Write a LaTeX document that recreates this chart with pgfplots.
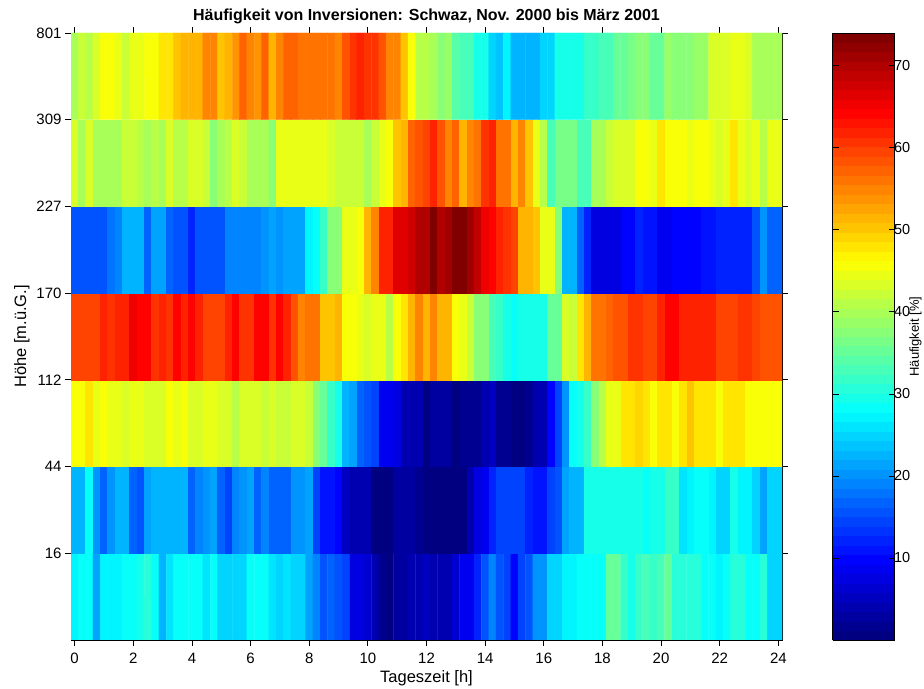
\documentclass[border=0pt]{standalone}
\usepackage{fontspec}
\setmainfont{Liberation Sans}
\usepackage{pgfplots}
\pgfplotsset{compat=1.18}

% jet colour scale, sampled into 64 discrete steps
\pgfplotsset{
  colormap={jetbase}{rgb255(0)=(0,0,128) rgb255(1)=(0,0,255) rgb255(3)=(0,255,255)
                     rgb255(5)=(255,255,0) rgb255(7)=(255,0,0) rgb255(8)=(128,0,0)},
  colormap={jetsteps}{samples of colormap=(64 of jetbase)},
}

\newcommand{\ticklabelfont}{\fontsize{15bp}{17bp}\selectfont}
\newcommand{\labelfont}{\fontsize{16.5bp}{19bp}\selectfont}

\begin{document}
\begin{tikzpicture}
\path[use as bounding box] (0,0) rectangle (924bp,689bp);
\begin{axis}[
  at={(71bp,49bp)}, anchor=south west,
  scale only axis, width=711bp, height=607bp,
  xmin=-0.125, xmax=24.125, ymin=0, ymax=7,
  xtick={0,2,...,24},
  ytick={1,...,7}, yticklabels={16,44,112,170,227,309,801},
  tick align=outside, major tick length=6bp,
  axis line style={line width=0.8bp},
  every tick/.style={black, line width=0.8bp},
  /pgf/number format/assume math mode=true,
  tick label style={font=\ticklabelfont},
  xticklabel style={yshift=-4bp},
  label style={font=\labelfont},
  title={Häufigkeit von Inversionen: Schwaz, Nov. 2000 bis März 2001},
  title style={font=\fontsize{16bp}{18bp}\selectfont\bfseries,
               at={(0.5,1)}, anchor=base, yshift=7bp},
  xlabel={Tageszeit [h]},
  ylabel={Höhe [m.ü.G.]},
  colormap name=jetsteps,
  colormap access=piecewise constant,
  point meta min=0, point meta max=74,
  colorbar,
  colorbar style={
    at={(parent axis.south east)}, anchor=south west, xshift=42bp,
    scale only axis, width=62bp, height=607bp,
    ytick={10,20,...,70},
    ytick pos=both, yticklabel pos=right,
    tick align=inside, major tick length=6bp,
    axis line style={line width=0.8bp},
    every tick/.style={black, line width=0.8bp},
    /pgf/number format/assume math mode=true,
    yticklabel style={font=\fontsize{14.5bp}{16bp}\selectfont, xshift=-4bp},
    ylabel={Häufigkeit [\%]},
    ylabel style={font=\fontsize{13bp}{15bp}\selectfont, inner sep=0pt,
                  at={(rel axis cs:1,0.5)}, anchor=center, yshift=-21bp},
  },
]
\addplot[matrix plot*, mesh/cols=97, point meta=explicit]
  table[row sep=\\, x=t, y=z, meta=f] {
t z f\\
0 0.5 27\\ 0.25 0.5 28.5\\ 0.5 0.5 28.5\\ 0.75 0.5 21\\ 1 0.5 27\\ 1.25 0.5 27\\ 1.5 0.5 27\\ 1.75 0.5 28.5\\
2 0.5 28.5\\ 2.25 0.5 30\\ 2.5 0.5 31\\ 2.75 0.5 28\\ 3 0.5 22\\ 3.25 0.5 26\\ 3.5 0.5 28.5\\ 3.75 0.5 28.5\\
4 0.5 28\\ 4.25 0.5 28.5\\ 4.5 0.5 26\\ 4.75 0.5 28.5\\ 5 0.5 25\\ 5.25 0.5 25\\ 5.5 0.5 25\\ 5.75 0.5 25\\
6 0.5 28\\ 6.25 0.5 28\\ 6.5 0.5 28\\ 6.75 0.5 26\\ 7 0.5 25\\ 7.25 0.5 26.5\\ 7.5 0.5 25\\ 7.75 0.5 25\\
8 0.5 21\\ 8.25 0.5 18.5\\ 8.5 0.5 16\\ 8.75 0.5 17\\ 9 0.5 16\\ 9.25 0.5 14\\ 9.5 0.5 8\\ 9.75 0.5 7\\
10 0.5 6\\ 10.25 0.5 4.5\\ 10.5 0.5 1.5\\ 10.75 0.5 0\\ 11 0.5 2.5\\ 11.25 0.5 2.5\\ 11.5 0.5 3.5\\ 11.75 0.5 3.5\\
12 0.5 5\\ 12.25 0.5 4\\ 12.5 0.5 4\\ 12.75 0.5 4.5\\ 13 0.5 6\\ 13.25 0.5 9\\ 13.5 0.5 9\\ 13.75 0.5 12.5\\
14 0.5 16\\ 14.25 0.5 18.5\\ 14.5 0.5 16\\ 14.75 0.5 14\\ 15 0.5 10\\ 15.25 0.5 14\\ 15.5 0.5 16\\ 15.75 0.5 20\\
16 0.5 20\\ 16.25 0.5 25\\ 16.5 0.5 25\\ 16.75 0.5 27\\ 17 0.5 27\\ 17.25 0.5 28.5\\ 17.5 0.5 28.5\\ 17.75 0.5 28.5\\
18 0.5 28.5\\ 18.25 0.5 35.5\\ 18.5 0.5 35.5\\ 18.75 0.5 32\\ 19 0.5 30\\ 19.25 0.5 32\\ 19.5 0.5 33\\ 19.75 0.5 32\\
20 0.5 33\\ 20.25 0.5 35.5\\ 20.5 0.5 31\\ 20.75 0.5 31\\ 21 0.5 31\\ 21.25 0.5 31\\ 21.5 0.5 28.5\\ 21.75 0.5 28.5\\
22 0.5 27\\ 22.25 0.5 28.5\\ 22.5 0.5 31\\ 22.75 0.5 31\\ 23 0.5 28.5\\ 23.25 0.5 28.5\\ 23.5 0.5 31\\ 23.75 0.5 25\\
24 0.5 25\\
0 1.5 23\\ 0.25 1.5 22\\ 0.5 1.5 28\\ 0.75 1.5 20\\ 1 1.5 17\\ 1.25 1.5 20\\ 1.5 1.5 23\\ 1.75 1.5 22\\
2 1.5 17\\ 2.25 1.5 16\\ 2.5 1.5 21\\ 2.75 1.5 22\\ 3 1.5 22\\ 3.25 1.5 22\\ 3.5 1.5 22\\ 3.75 1.5 22\\
4 1.5 17\\ 4.25 1.5 18.5\\ 4.5 1.5 20\\ 4.75 1.5 21\\ 5 1.5 17\\ 5.25 1.5 15\\ 5.5 1.5 18.5\\ 5.75 1.5 20\\
6 1.5 21\\ 6.25 1.5 17\\ 6.5 1.5 18.5\\ 6.75 1.5 17\\ 7 1.5 17\\ 7.25 1.5 17\\ 7.5 1.5 20\\ 7.75 1.5 20\\
8 1.5 21\\ 8.25 1.5 15\\ 8.5 1.5 11\\ 8.75 1.5 11\\ 9 1.5 10\\ 9.25 1.5 5.5\\ 9.5 1.5 4.5\\ 9.75 1.5 3.5\\
10 1.5 4.5\\ 10.25 1.5 0.3\\ 10.5 1.5 0.3\\ 10.75 1.5 0.3\\ 11 1.5 2.5\\ 11.25 1.5 2.5\\ 11.5 1.5 2.5\\ 11.75 1.5 1.5\\
12 1.5 0.3\\ 12.25 1.5 0.3\\ 12.5 1.5 0.3\\ 12.75 1.5 0.2\\ 13 1.5 0\\ 13.25 1.5 0\\ 13.5 1.5 3.5\\ 13.75 1.5 7\\
14 1.5 9\\ 14.25 1.5 12.5\\ 14.5 1.5 14\\ 14.75 1.5 14\\ 15 1.5 14\\ 15.25 1.5 14\\ 15.5 1.5 12.5\\ 15.75 1.5 11\\
16 1.5 11\\ 16.25 1.5 14\\ 16.5 1.5 16\\ 16.75 1.5 21\\ 17 1.5 23\\ 17.25 1.5 23\\ 17.5 1.5 30\\ 17.75 1.5 30\\
18 1.5 29\\ 18.25 1.5 30\\ 18.5 1.5 30\\ 18.75 1.5 30\\ 19 1.5 30\\ 19.25 1.5 29\\ 19.5 1.5 28\\ 19.75 1.5 29\\
20 1.5 30\\ 20.25 1.5 32\\ 20.5 1.5 32\\ 20.75 1.5 26\\ 21 1.5 27\\ 21.25 1.5 28\\ 21.5 1.5 28\\ 21.75 1.5 27\\
22 1.5 25\\ 22.25 1.5 25\\ 22.5 1.5 29\\ 22.75 1.5 27\\ 23 1.5 27\\ 23.25 1.5 25\\ 23.5 1.5 21\\ 23.75 1.5 25\\
24 1.5 25\\
0 2.5 46\\ 0.25 2.5 46\\ 0.5 2.5 48\\ 0.75 2.5 45\\ 1 2.5 46\\ 1.25 2.5 44\\ 1.5 2.5 44\\ 1.75 2.5 43\\
2 2.5 45\\ 2.25 2.5 45\\ 2.5 2.5 43\\ 2.75 2.5 43\\ 3 2.5 43\\ 3.25 2.5 46\\ 3.5 2.5 45\\ 3.75 2.5 46\\
4 2.5 43\\ 4.25 2.5 43\\ 4.5 2.5 45\\ 4.75 2.5 45\\ 5 2.5 43\\ 5.25 2.5 43\\ 5.5 2.5 41\\ 5.75 2.5 43\\
6 2.5 43\\ 6.25 2.5 43\\ 6.5 2.5 42\\ 6.75 2.5 43\\ 7 2.5 42\\ 7.25 2.5 42\\ 7.5 2.5 43\\ 7.75 2.5 43\\
8 2.5 42\\ 8.25 2.5 38\\ 8.5 2.5 35\\ 8.75 2.5 32\\ 9 2.5 30\\ 9.25 2.5 23\\ 9.5 2.5 21\\ 9.75 2.5 17\\
10 2.5 16\\ 10.25 2.5 14\\ 10.5 2.5 9\\ 10.75 2.5 9\\ 11 2.5 7\\ 11.25 2.5 3.5\\ 11.5 2.5 3.5\\ 11.75 2.5 3.5\\
12 2.5 1\\ 12.25 2.5 2.5\\ 12.5 2.5 2.5\\ 12.75 2.5 2.5\\ 13 2.5 0.5\\ 13.25 2.5 1.5\\ 13.5 2.5 1.5\\ 13.75 2.5 1.5\\
14 2.5 4\\ 14.25 2.5 5\\ 14.5 2.5 1.5\\ 14.75 2.5 1.5\\ 15 2.5 0.5\\ 15.25 2.5 0.5\\ 15.5 2.5 1.5\\ 15.75 2.5 3.5\\
16 2.5 3.5\\ 16.25 2.5 10\\ 16.5 2.5 14\\ 16.75 2.5 20\\ 17 2.5 28\\ 17.25 2.5 30\\ 17.5 2.5 32\\ 17.75 2.5 37\\
18 2.5 41\\ 18.25 2.5 44\\ 18.5 2.5 44\\ 18.75 2.5 48\\ 19 2.5 48\\ 19.25 2.5 49\\ 19.5 2.5 48\\ 19.75 2.5 46\\
20 2.5 48.5\\ 20.25 2.5 48.5\\ 20.5 2.5 46\\ 20.75 2.5 48\\ 21 2.5 50\\ 21.25 2.5 47.5\\ 21.5 2.5 47.5\\ 21.75 2.5 47.5\\
22 2.5 46\\ 22.25 2.5 47.5\\ 22.5 2.5 47.5\\ 22.75 2.5 47.5\\ 23 2.5 46\\ 23.25 2.5 46\\ 23.5 2.5 46\\ 23.75 2.5 46\\
24 2.5 46\\
0 3.5 60\\ 0.25 3.5 60\\ 0.5 3.5 60\\ 0.75 3.5 60\\ 1 3.5 62\\ 1.25 3.5 61\\ 1.5 3.5 62\\ 1.75 3.5 62\\
2 3.5 65\\ 2.25 3.5 64\\ 2.5 3.5 64\\ 2.75 3.5 61\\ 3 3.5 62\\ 3.25 3.5 61\\ 3.5 3.5 64\\ 3.75 3.5 62\\
4 3.5 64\\ 4.25 3.5 62\\ 4.5 3.5 60\\ 4.75 3.5 60\\ 5 3.5 60\\ 5.25 3.5 62\\ 5.5 3.5 64\\ 5.75 3.5 61\\
6 3.5 61\\ 6.25 3.5 64\\ 6.5 3.5 64\\ 6.75 3.5 61\\ 7 3.5 64\\ 7.25 3.5 62\\ 7.5 3.5 58\\ 7.75 3.5 55\\
8 3.5 56\\ 8.25 3.5 56\\ 8.5 3.5 50\\ 8.75 3.5 50\\ 9 3.5 52\\ 9.25 3.5 46\\ 9.5 3.5 46\\ 9.75 3.5 44\\
10 3.5 43\\ 10.25 3.5 44\\ 10.5 3.5 44\\ 10.75 3.5 41\\ 11 3.5 46\\ 11.25 3.5 48\\ 11.5 3.5 52\\ 11.75 3.5 55\\
12 3.5 52\\ 12.25 3.5 55\\ 12.5 3.5 51\\ 12.75 3.5 51\\ 13 3.5 46\\ 13.25 3.5 44\\ 13.5 3.5 42\\ 13.75 3.5 38\\
14 3.5 37\\ 14.25 3.5 33\\ 14.5 3.5 32\\ 14.75 3.5 30\\ 15 3.5 28\\ 15.25 3.5 30\\ 15.5 3.5 29\\ 15.75 3.5 30\\
16 3.5 30\\ 16.25 3.5 35\\ 16.5 3.5 35\\ 16.75 3.5 43\\ 17 3.5 42\\ 17.25 3.5 48\\ 17.5 3.5 52\\ 17.75 3.5 56\\
18 3.5 56\\ 18.25 3.5 57\\ 18.5 3.5 58\\ 18.75 3.5 58\\ 19 3.5 61\\ 19.25 3.5 61\\ 19.5 3.5 60\\ 19.75 3.5 60\\
20 3.5 62\\ 20.25 3.5 64\\ 20.5 3.5 64\\ 20.75 3.5 62\\ 21 3.5 62\\ 21.25 3.5 62\\ 21.5 3.5 62\\ 21.75 3.5 62\\
22 3.5 60\\ 22.25 3.5 60\\ 22.5 3.5 60\\ 22.75 3.5 61\\ 23 3.5 61\\ 23.25 3.5 60\\ 23.5 3.5 58\\ 23.75 3.5 58\\
24 3.5 58\\
0 4.5 16\\ 0.25 4.5 16\\ 0.5 4.5 16\\ 0.75 4.5 16\\ 1 4.5 16\\ 1.25 4.5 18\\ 1.5 4.5 18.5\\ 1.75 4.5 23\\
2 4.5 22\\ 2.25 4.5 23\\ 2.5 4.5 17\\ 2.75 4.5 21\\ 3 4.5 21\\ 3.25 4.5 17\\ 3.5 4.5 16\\ 3.75 4.5 16\\
4 4.5 12.5\\ 4.25 4.5 16\\ 4.5 4.5 16\\ 4.75 4.5 16\\ 5 4.5 16\\ 5.25 4.5 18.5\\ 5.5 4.5 18.5\\ 5.75 4.5 18.5\\
6 4.5 19\\ 6.25 4.5 19\\ 6.5 4.5 20\\ 6.75 4.5 21\\ 7 4.5 20\\ 7.25 4.5 21.5\\ 7.5 4.5 21.5\\ 7.75 4.5 21.5\\
8 4.5 27\\ 8.25 4.5 28\\ 8.5 4.5 32\\ 8.75 4.5 37\\ 9 4.5 37\\ 9.25 4.5 44\\ 9.5 4.5 44\\ 9.75 4.5 46\\
10 4.5 52\\ 10.25 4.5 55\\ 10.5 4.5 62\\ 10.75 4.5 62\\ 11 4.5 67\\ 11.25 4.5 67\\ 11.5 4.5 68\\ 11.75 4.5 70\\
12 4.5 70\\ 12.25 4.5 73\\ 12.5 4.5 70\\ 12.75 4.5 71\\ 13 4.5 73\\ 13.25 4.5 74\\ 13.5 4.5 71\\ 13.75 4.5 69\\
14 4.5 65\\ 14.25 4.5 64\\ 14.5 4.5 62\\ 14.75 4.5 61\\ 15 4.5 60\\ 15.25 4.5 52\\ 15.5 4.5 52\\ 15.75 4.5 50\\
16 4.5 45\\ 16.25 4.5 45\\ 16.5 4.5 37\\ 16.75 4.5 23\\ 17 4.5 22\\ 17.25 4.5 17\\ 17.5 4.5 12.5\\ 17.75 4.5 8\\
18 4.5 8\\ 18.25 4.5 8\\ 18.5 4.5 8\\ 18.75 4.5 10\\ 19 4.5 10\\ 19.25 4.5 12.5\\ 19.5 4.5 11\\ 19.75 4.5 11\\
20 4.5 9\\ 20.25 4.5 9\\ 20.5 4.5 10\\ 20.75 4.5 10\\ 21 4.5 10\\ 21.25 4.5 10\\ 21.5 4.5 11\\ 21.75 4.5 11\\
22 4.5 12.5\\ 22.25 4.5 12.5\\ 22.5 4.5 12.5\\ 22.75 4.5 12.5\\ 23 4.5 12.5\\ 23.25 4.5 16\\ 23.5 4.5 20\\ 23.75 4.5 17\\
24 4.5 17\\
0 5.5 43\\ 0.25 5.5 40\\ 0.5 5.5 43\\ 0.75 5.5 40\\ 1 5.5 40\\ 1.25 5.5 40\\ 1.5 5.5 40\\ 1.75 5.5 42\\
2 5.5 42\\ 2.25 5.5 41\\ 2.5 5.5 40\\ 2.75 5.5 41\\ 3 5.5 40\\ 3.25 5.5 43\\ 3.5 5.5 41\\ 3.75 5.5 41\\
4 5.5 43\\ 4.25 5.5 43\\ 4.5 5.5 42\\ 4.75 5.5 37\\ 5 5.5 40\\ 5.25 5.5 41\\ 5.5 5.5 43\\ 5.75 5.5 42\\
6 5.5 40\\ 6.25 5.5 40\\ 6.5 5.5 40\\ 6.75 5.5 37\\ 7 5.5 44\\ 7.25 5.5 44\\ 7.5 5.5 44\\ 7.75 5.5 44\\
8 5.5 44\\ 8.25 5.5 44\\ 8.5 5.5 45\\ 8.75 5.5 43\\ 9 5.5 42\\ 9.25 5.5 42\\ 9.5 5.5 42\\ 9.75 5.5 42\\
10 5.5 40\\ 10.25 5.5 42\\ 10.5 5.5 44\\ 10.75 5.5 46\\ 11 5.5 50\\ 11.25 5.5 51\\ 11.5 5.5 57\\ 11.75 5.5 58\\
12 5.5 60\\ 12.25 5.5 62\\ 12.5 5.5 58\\ 12.75 5.5 55\\ 13 5.5 57\\ 13.25 5.5 52\\ 13.5 5.5 55\\ 13.75 5.5 56\\
14 5.5 61\\ 14.25 5.5 62\\ 14.5 5.5 56\\ 14.75 5.5 56\\ 15 5.5 52\\ 15.25 5.5 55\\ 15.5 5.5 50\\ 15.75 5.5 44\\
16 5.5 41\\ 16.25 5.5 33\\ 16.5 5.5 36\\ 16.75 5.5 36\\ 17 5.5 36\\ 17.25 5.5 33\\ 17.5 5.5 33\\ 17.75 5.5 40\\
18 5.5 40\\ 18.25 5.5 42\\ 18.5 5.5 43\\ 18.75 5.5 43\\ 19 5.5 43\\ 19.25 5.5 46\\ 19.5 5.5 46\\ 19.75 5.5 45\\
20 5.5 48\\ 20.25 5.5 46\\ 20.5 5.5 46\\ 20.75 5.5 46\\ 21 5.5 45\\ 21.25 5.5 46\\ 21.5 5.5 46\\ 21.75 5.5 45\\
22 5.5 43\\ 22.25 5.5 44\\ 22.5 5.5 48\\ 22.75 5.5 44\\ 23 5.5 43\\ 23.25 5.5 45\\ 23.5 5.5 41\\ 23.75 5.5 44\\
24 5.5 44\\
0 6.5 40\\ 0.25 6.5 42\\ 0.5 6.5 41\\ 0.75 6.5 43\\ 1 6.5 46\\ 1.25 6.5 46\\ 1.5 6.5 44\\ 1.75 6.5 42\\
2 6.5 45\\ 2.25 6.5 45\\ 2.5 6.5 46\\ 2.75 6.5 46\\ 3 6.5 48\\ 3.25 6.5 48\\ 3.5 6.5 50\\ 3.75 6.5 51\\
4 6.5 51\\ 4.25 6.5 52\\ 4.5 6.5 55\\ 4.75 6.5 55\\ 5 6.5 50\\ 5.25 6.5 52\\ 5.5 6.5 54\\ 5.75 6.5 57\\
6 6.5 55\\ 6.25 6.5 54\\ 6.5 6.5 57\\ 6.75 6.5 52\\ 7 6.5 55\\ 7.25 6.5 57\\ 7.5 6.5 57\\ 7.75 6.5 56\\
8 6.5 56\\ 8.25 6.5 56\\ 8.5 6.5 56\\ 8.75 6.5 56\\ 9 6.5 55\\ 9.25 6.5 58\\ 9.5 6.5 61\\ 9.75 6.5 62\\
10 6.5 61\\ 10.25 6.5 61\\ 10.5 6.5 58\\ 10.75 6.5 55\\ 11 6.5 55\\ 11.25 6.5 50\\ 11.5 6.5 46\\ 11.75 6.5 41\\
12 6.5 41\\ 12.25 6.5 40\\ 12.5 6.5 37\\ 12.75 6.5 39\\ 13 6.5 34\\ 13.25 6.5 33\\ 13.5 6.5 33\\ 13.75 6.5 30\\
14 6.5 30\\ 14.25 6.5 25\\ 14.5 6.5 24\\ 14.75 6.5 27\\ 15 6.5 23\\ 15.25 6.5 23\\ 15.5 6.5 22\\ 15.75 6.5 22\\
16 6.5 25\\ 16.25 6.5 25\\ 16.5 6.5 29\\ 16.75 6.5 29\\ 17 6.5 29\\ 17.25 6.5 29\\ 17.5 6.5 32\\ 17.75 6.5 32\\
18 6.5 33\\ 18.25 6.5 33\\ 18.5 6.5 35\\ 18.75 6.5 35\\ 19 6.5 36\\ 19.25 6.5 37\\ 19.5 6.5 38\\ 19.75 6.5 35\\
20 6.5 35\\ 20.25 6.5 39\\ 20.5 6.5 37\\ 20.75 6.5 37\\ 21 6.5 37\\ 21.25 6.5 39\\ 21.5 6.5 39\\ 21.75 6.5 43\\
22 6.5 43\\ 22.25 6.5 43\\ 22.5 6.5 45\\ 22.75 6.5 45\\ 23 6.5 43\\ 23.25 6.5 40\\ 23.5 6.5 40\\ 23.75 6.5 40\\
24 6.5 40\\
};
\end{axis}
\end{tikzpicture}
\end{document}
